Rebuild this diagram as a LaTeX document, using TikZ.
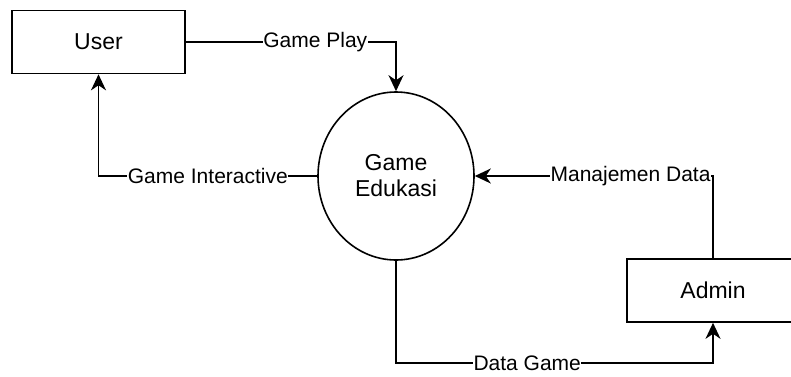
\documentclass[tikz,border=0pt]{standalone}
\usepackage{fontspec}
\setmainfont{Liberation Sans}
\usetikzlibrary{arrows.meta,shapes.geometric}
\begin{document}
\begin{tikzpicture}[x=1pt,y=-1pt,
  ent/.style={draw,line width=1.6pt,minimum width=173pt,minimum height=63pt,inner sep=0pt,font=\fontsize{23}{27}\selectfont},
  proc/.style={draw,ellipse,line width=1.6pt,minimum width=156pt,minimum height=168pt,inner sep=0pt,align=center,font=\fontsize{23}{27}\selectfont},
  flow/.style={line width=1.6pt,-{Stealth[length=16pt,width=15pt,inset=5pt]}},
  lbl/.style={fill=white,inner sep=0.5pt,font=\fontsize{21}{24}\selectfont}]
\useasboundingbox[fill=white] (0,0) rectangle (791,376);
\node[ent] (user) at (98.5,42) {User};
\node[proc] (edu) at (396,176) {Game\\[-1pt]Edukasi};
\node[ent,minimum width=172pt] (admin) at (713,290.5) {Admin};
\coordinate (dgc) at (396,363);
\draw[flow] (user.east) -| node[lbl,pos=0.308] (gp) {Game Play} (edu.north);
\draw[flow] (edu.west) -| node[lbl,pos=0.25] (gi) {Game Interactive} (user.south);
\draw[flow] (admin.north) |- node[lbl,pos=0.673] (md) {Manajemen Data} (edu.east);
\draw[flow] (edu.south) -- (dgc) -| node[lbl,pos=0.207] (dg) {Data Game} (admin.south);
\end{tikzpicture}
\end{document}
